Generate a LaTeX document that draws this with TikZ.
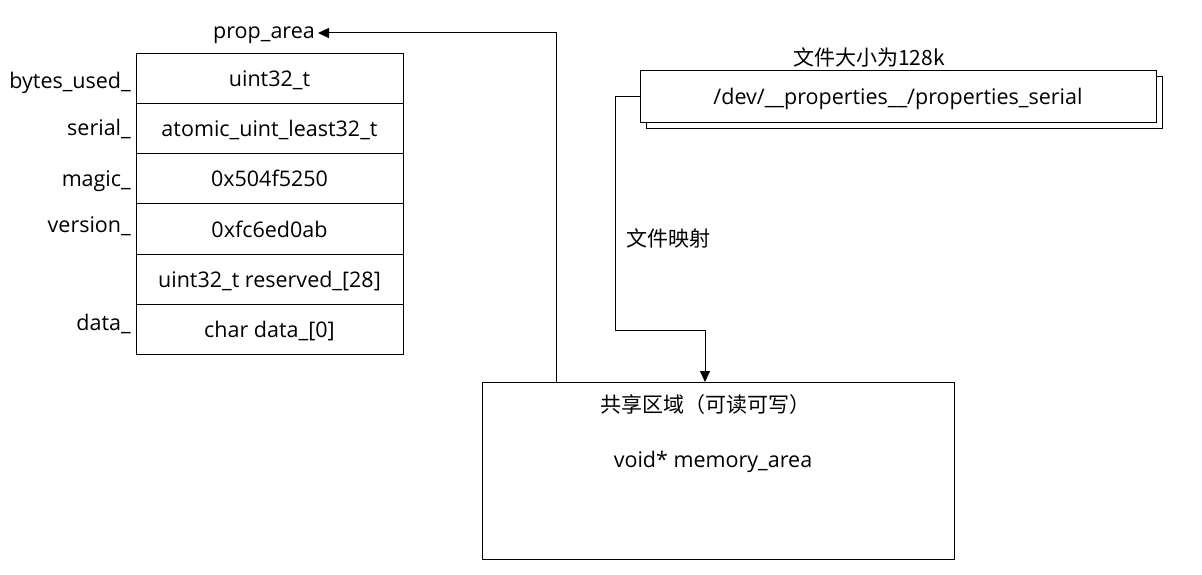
\documentclass[tikz,border=0pt]{standalone}
\usepackage{fontspec}
\setmainfont{Open Sans}
\newfontfamily\cjk{Noto Sans CJK SC}
\usetikzlibrary{arrows.meta}
\begin{document}
\begin{tikzpicture}[x=1pt,y=-1pt,
  fsz/.style={font=\fontsize{21.5}{25}\selectfont},
  cell/.style={draw,line width=1pt,minimum width=267pt,minimum height=50.3pt,inner sep=0pt,text height=19pt,text depth=3pt,fsz},
  lbl/.style={anchor=east,inner sep=0pt,yshift=-2pt,fsz},
  txt/.style={inner sep=0pt,yshift=-1.5pt,fsz},
  ctxt/.style={inner sep=0pt,yshift=-1pt,font=\cjk\fontsize{21}{25}\selectfont},
  conn/.style={line width=1pt},
  tip/.style={-{Triangle[length=11pt,width=10pt]}}]
\useasboundingbox (0,0) rectangle (1202,575);
% table
\node[cell] (c1) at (269.5,78.2) {uint32\_t};
\node[cell] (c2) at (269.5,128.5) {atomic\_uint\_least32\_t};
\node[cell] (c3) at (269.5,178.8) {0x504f5250};
\node[cell] (c4) at (269.5,229.1) {0xfc6ed0ab};
\node[cell] (c5) at (269.5,279.4) {uint32\_t reserved\_[28]};
\node[cell] (c6) at (269.5,329.7) {char data\_[0]};
\node[lbl] (l1) at (131,81) {bytes\_used\_};
\node[lbl] (l2) at (131,127) {serial\_};
\node[lbl] (l3) at (131,179) {magic\_};
\node[lbl] (l4) at (131,224) {version\_};
\node[lbl] (l6) at (131,322) {data\_};
\node[txt] (pa) at (264,34) {prop\_area};
% file box stack
\draw[line width=1pt,fill=white] (646,77) rectangle (1162,129);
\node[draw,line width=1pt,fill=white,minimum width=516pt,minimum height=52pt,inner sep=0pt,text height=19pt,text depth=3pt,fsz] (f) at (898,97) {/dev/\_\_properties\_\_/properties\_serial};
\node[ctxt] (fs) at (869,56) {文件大小为128k};
% shared box
\node[draw,line width=1pt,minimum width=472pt,minimum height=177pt,inner sep=0pt] (s) at (718,470.5) {};
\node[ctxt] (st) at (705,404) {共享区域（可读可写）};
\node[txt] (vm) at (713,460) {void* memory\_area};
\node[ctxt] (map) at (668,237) {文件映射};
% connectors
\coordinate (m1) at (705,382);
\draw[conn,tip] (f.west) -- (615,97) -- (615,330) -- (705,330) -- (m1);
\coordinate (m2) at (556,382);
\coordinate (pt) at (318,33);
\draw[conn,tip] (m2) -- (556,33) -- (pt);
\end{tikzpicture}
\end{document}
